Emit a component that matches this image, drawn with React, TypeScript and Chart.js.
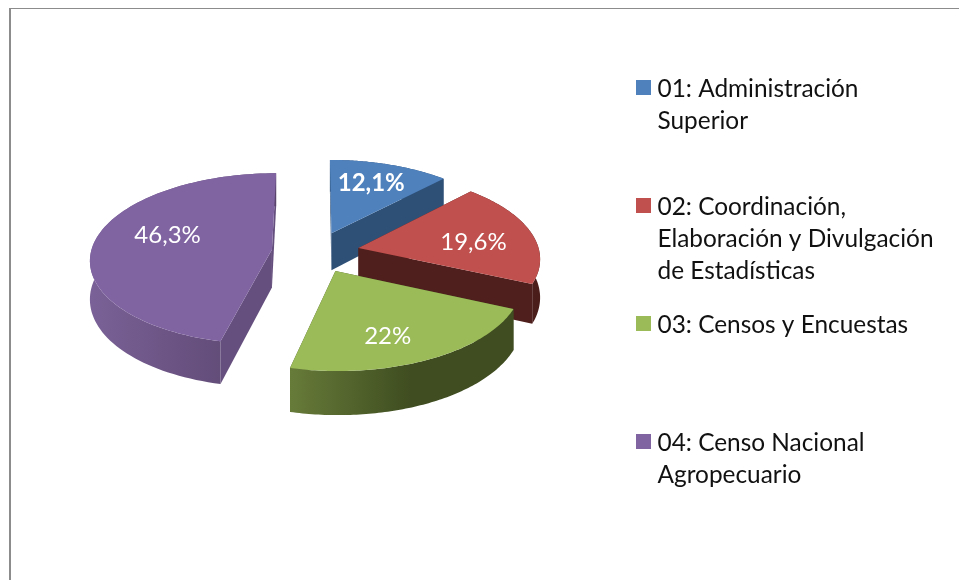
import React, { useEffect, useRef } from "react";
import { Chart, registerables } from "chart.js";

Chart.register(...registerables);

const categories = [
  "01: Administración Superior",
  "02: Coordinación, Elaboración y Divulgación de Estadísticas",
  "03: Censos y Encuestas",
  "04: Censo Nacional Agropecuario",
];
const legendLines = [
  ["01: Administración", "Superior"],
  ["02: Coordinación,", "Elaboración y Divulgación", "de Estadísticas"],
  ["03: Censos y Encuestas"],
  ["04: Censo Nacional", "Agropecuario"],
];
const values = [12.1, 19.6, 22, 46.3];
const topColors = ["#4f81bd", "#c0504d", "#9bbb59", "#8064a2"];
const cutColors = ["#2e5077", "#4f1f1d", "#414f22", "#654f7e"];
const wallLight = ["#2e5077", "#4f1f1d", "#677b39", "#7a6197"];
const wallDark = ["#2e5077", "#4a1d1b", "#3f4d20", "#59446c"];
const wallStop = [1, 1, 0.54, 1];
const labelReach = [0.65, 0.64, 0.72, 0.62];
const labelNudgeU = [0.006, 0.017, -0.066, 0.022];
const labelNudgeV = [-0.06, 0.06, 0.035, -0.106];
const labelBold = [true, false, false, false];

const FONT = "Lato, Carlito, sans-serif";
const CX = 315.5, CY = 252, AX = 181, AY = 85, PERSP = 0.107, EXPLODE = 0.243;

const proj = (u: number, v: number, z = 0) => {
  const w = 1 - PERSP * v;
  return {
    x: CX + (AX * u) / w,
    y: CY + (AY * v) / w + z * (38 + 5 * v),
  };
};

const sectorPaint = {
  id: "sectorPaint",
  beforeDraw(chart: any) {
    const { ctx } = chart;
    ctx.save();
    ctx.fillStyle = "#ffffff";
    ctx.fillRect(0, 0, 959, 580);
    ctx.fillStyle = "#8c8c8c";
    ctx.fillRect(9, 8, 950, 1);
    ctx.fillRect(9, 8, 2, 572);
    ctx.restore();
  },
  beforeDatasetsDraw(chart: any) {
    const { ctx } = chart;
    const arcs = chart.getDatasetMeta(0).data;
    ctx.save();
    const order = [0, 1, 3, 2];
    for (const i of order) {
      const a = arcs[i];
      const s = a.startAngle, e = a.endAngle, mid = (s + e) / 2;
      const ou = EXPLODE * Math.cos(mid), ov = EXPLODE * Math.sin(mid);
      const top: any[] = [], bot: any[] = [];
      const n = 90;
      for (let k = 0; k <= n; k++) {
        const t = s + ((e - s) * k) / n;
        const u = ou + Math.cos(t), v = ov + Math.sin(t);
        top.push(proj(u, v, 0));
        bot.push(proj(u, v, 1));
      }
      const ap = proj(ou, ov, 0), apB = proj(ou, ov, 1);
      // radial cut faces
      ctx.fillStyle = cutColors[i];
      for (const idx of [0, n]) {
        ctx.beginPath();
        ctx.moveTo(ap.x, ap.y);
        ctx.lineTo(top[idx].x, top[idx].y);
        ctx.lineTo(bot[idx].x, bot[idx].y);
        ctx.lineTo(apB.x, apB.y);
        ctx.closePath();
        ctx.fill();
      }
      // outer wall
      const xs = top.map((p) => p.x);
      const g = ctx.createLinearGradient(Math.min(...xs), 0, Math.max(...xs), 0);
      g.addColorStop(0, wallLight[i]);
      g.addColorStop(wallStop[i], wallDark[i]);
      g.addColorStop(1, wallDark[i]);
      ctx.fillStyle = g;
      ctx.beginPath();
      top.forEach((p, k) => (k ? ctx.lineTo(p.x, p.y) : ctx.moveTo(p.x, p.y)));
      for (let k = n; k >= 0; k--) ctx.lineTo(bot[k].x, bot[k].y);
      ctx.closePath();
      ctx.fill();
      // top face
      ctx.fillStyle = topColors[i];
      ctx.beginPath();
      ctx.moveTo(ap.x, ap.y);
      top.forEach((p) => ctx.lineTo(p.x, p.y));
      ctx.closePath();
      ctx.fill();
    }
    // value labels
    ctx.fillStyle = "#ffffff";
    ctx.textAlign = "center";
    ctx.textBaseline = "middle";
    arcs.forEach((a: any, i: number) => {
      const mid = (a.startAngle + a.endAngle) / 2;
      const r = EXPLODE + labelReach[i];
      const p = proj(r * Math.cos(mid) + labelNudgeU[i], r * Math.sin(mid) + labelNudgeV[i]);
      ctx.font = `${labelBold[i] ? "bold " : ""}24px ${FONT}`;
      ctx.fillText(String(values[i]).replace(".", ",") + "%", p.x, p.y);
    });
    ctx.restore();
    return false;
  },
  afterDraw(chart: any) {
    const { ctx } = chart;
    ctx.save();
    ctx.textAlign = "left";
    ctx.textBaseline = "alphabetic";
    ctx.font = `24.4px ${FONT}`;
    legendLines.forEach((lines, i) => {
      const y = 80 + 118 * i;
      ctx.fillStyle = topColors[i];
      ctx.fillRect(636, y, 15, 15);
      ctx.fillStyle = "#111111";
      lines.forEach((t, j) => ctx.fillText(t, 657.5, y + 17 + 32 * j));
    });
    ctx.restore();
  },
};

export default function App() {
  const ref = useRef<HTMLCanvasElement>(null);
  useEffect(() => {
    const chart = new Chart(ref.current as HTMLCanvasElement, {
      type: "pie",
      data: {
        labels: categories,
        datasets: [{ data: values, backgroundColor: topColors, borderWidth: 0 }],
      },
      options: {
        animation: false,
        responsive: false,
        plugins: { legend: { display: false }, tooltip: { enabled: false } },
      },
      plugins: [sectorPaint],
    } as any);
    return () => chart.destroy();
  }, []);
  return (
    <canvas
      ref={ref}
      width={959}
      height={580}
      style={{ position: "absolute", left: 0, top: 0, width: 959, height: 580 }}
    />
  );
}
